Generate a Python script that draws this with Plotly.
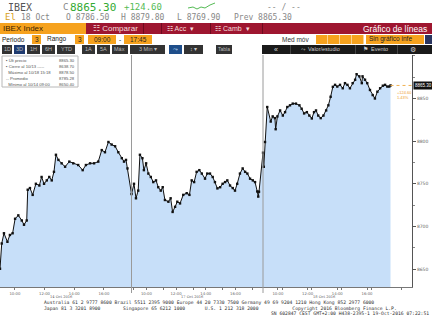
import plotly.graph_objects as go

# ---------------- data ----------------
day_labels = ["14 Oct 2016", "17 Oct 2016", "18 Oct 2016"]

day1_times = ["09:00","09:07","09:16","09:30","09:40","09:51","10:01","10:14","10:28","10:37","10:48","10:52",
              "11:01","11:12","11:25","11:39","11:48","11:58","12:09","12:19","12:29","12:38","12:46","12:56",
              "13:09","13:23","13:40","13:56","14:16","14:34","14:47","15:04","15:20","15:37","15:51","16:04",
              "16:18","16:31","16:45","16:58","17:12","17:21","17:29","17:35"]
day1_vals = [8650.4,8680,8692,8682,8690,8692,8709,8713,8707,8702,8707,8743,
             8745,8737,8750,8748,8758,8750,8754,8758,8754,8764,8784,8778,
             8774,8770,8776,8774,8772,8766,8772,8774,8774,8776,8789.5,8787,
             8799,8796,8794,8787,8780,8776,8778,8768]

day2_times = ["09:00","09:10","09:18","09:27","09:34","09:44","09:50","09:59","10:08","10:18","10:28","10:39",
              "10:48","10:58","11:06","11:15","11:29","11:38","11:46","11:56","12:05","12:16","12:29","12:43",
              "12:54","13:03","13:13","13:23","13:34","13:44","13:57","14:06","14:17","14:28","14:37","14:47",
              "14:58","15:08","15:18","15:27","15:38","15:49","15:58","16:07","16:18","16:29","16:39","16:48",
              "16:59","17:10","17:19","17:28","17:32","17:35"]
day2_vals = [8738,8750,8733,8742,8784,8780,8766,8774,8762,8758,8752,8754,
             8746,8742,8746,8731,8729,8733,8717,8723,8729,8727,8737,8739,
             8737,8754,8752,8764,8766,8762,8756,8762,8762,8758,8752,8744.6,
             8746,8750,8752,8754,8748,8745,8742,8750,8762,8768,8764,8762,
             8756,8754,8752,8741,8735,8740.7]

day3_times = ["09:00","09:03","09:08","09:17","09:31","09:39","09:48","09:51","09:58","10:09","10:20","10:29",
              "10:38","10:49","11:00","11:13","11:27","11:36","11:46","11:57","12:07","12:17","12:26","12:34",
              "12:43","12:53","13:04","13:15","13:24","13:33","13:42","13:51","14:00","14:11","14:22","14:31",
              "14:41","14:51","15:02","15:12","15:18","15:29","15:39","15:42","15:52","16:01","16:12","16:23",
              "16:32","16:42","16:53","17:04","17:13","17:22","17:30","17:35"]
day3_vals = [8786.5,8769.9,8799,8840,8823,8829,8827,8814,8829,8836,8830,8834,
             8840,8842,8844,8844,8842,8838,8832.5,8834,8830,8826.6,8834,8836,
             8830,8827,8830,8836,8842,8852,8863.7,8866,8864,8866,8862,8868,
             8866,8862,8868,8872,8878.5,8876,8868,8876,8872,8868,8860,8854,
             8850,8858,8862,8865,8866,8864,8864,8865.3]

y_ticks = [8650, 8700, 8750, 8800, 8850]
x_tick_hours = [10, 12, 14, 16]
x_tick_text = ["10:00", "12:00", "14:00", "16:00"]
last_price = 8865.30
change_text = ["+124.60", "1.43%"]

legend_rows = [("\u25aa Últ precio", "8865.30"),
               ("\u25aa Cierre al 10/13 -----", "8638.70"),
               ("  Máximo al 10/18 15:18", "8878.50"),
               ("-- Promedio", "8785.28"),
               ("  Mínimo al 10/14 09:00", "8650.40")]

# ---------------- geometry ----------------
W, H = 432, 324
L, R, T, B = 0, 412, 55, 287
DAY = 8.855          # session length in hours
XMAX = 27.74

def px(x):
    return (x - L) / (R - L)

def py(y):
    return (B - y) / (B - T)

def hx(t):
    h, m = t.split(":")
    return int(h) + int(m) / 60.0 - 9.0

xs, ys = [], []
for d, (tt, vv) in enumerate([(day1_times, day1_vals), (day2_times, day2_vals), (day3_times, day3_vals)]):
    for t, v in zip(tt, vv):
        xs.append(d * DAY + hx(t))
        ys.append(v)

fig = go.Figure()
fig.add_trace(go.Scatter(x=xs, y=ys, mode="lines+markers", fill="tozeroy",
                         fillcolor="#c7dff9", line=dict(color="#111111", width=1),
                         marker=dict(color="#111111", size=2.4, symbol="square"),
                         hoverinfo="skip", showlegend=False))

tickvals, ticktext = [], []
for d in range(3):
    for h, t in zip(x_tick_hours, x_tick_text):
        tickvals.append(d * DAY + h - 9)
        ticktext.append(t)

mono = "DejaVu Sans Mono"
shapes = []
ann = []

def box(x0, y0, x1, y1, color, line=None):
    shapes.append(dict(type="rect", xref="paper", yref="paper", x0=px(x0), x1=px(x1),
                       y0=py(y1), y1=py(y0), fillcolor=color,
                       line=dict(width=0 if line is None else 1, color=line or color), layer="above"))

def text(x, y, s, color="#333", size=7, anchor="left", family=mono):
    ann.append(dict(xref="paper", yref="paper", x=px(x), y=py(y), text=s, showarrow=False,
                    xanchor=anchor, yanchor="middle", font=dict(family=family, size=size, color=color),
                    borderpad=0))

# ---- row 1 / row 2
text(7, 7, "IBEX", "#555", 10)
text(62, 7, "C", "#888", 9)
text(69, 7, "8865.30", "#33aa33", 11)
text(123, 7, "+124.60", "#55bb55", 9)
shapes.append(dict(type="path", xref="paper", yref="paper", layer="above",
                   path="M {} {} L {} {} L {} {} L {} {} L {} {} L {} {} L {} {}".format(
                       px(188), py(8), px(193), py(7), px(197), py(9), px(201), py(7), px(205), py(8),
                       px(210), py(5), px(215), py(3)),
                   line=dict(color="#55bb55", width=1)))
text(266, 7, "-- / --", "#888", 8)
text(4, 17, "El", "#d8a020", 9)
text(20, 17, "18 Oct", "#888", 8)
text(65, 17, "O 8786.50", "#888", 8)
text(120, 17, "H 8879.80", "#888", 8)
text(176, 17, "L 8769.90", "#888", 8)
text(233, 17, "Prev 8865.30", "#888", 8)

# ---- row 3
box(0, 23, 86, 34, "#f6a21e")
text(2, 28.5, "IBEX Index", "#3a2000", 8, family="Arial")
box(86, 23, 432, 34, "#9e1630")
for sx in [143, 161, 210, 262]:
    box(sx, 23, sx + 1, 34, "#6e0a1e")
text(92, 28.5, "\u2637 Comparar", "#f4dede", 8, family="Arial")
text(166, 28.5, "\u2637 Acc  \u25be", "#f4dede", 7, family="Arial")
text(214, 28.5, "\u2637 Camb  \u25be", "#f4dede", 7, family="Arial")
text(428, 28.5, "Gráfico de líneas", "#ffffff", 8.5, anchor="right", family="Arial")

# ---- row 4
text(1, 39.5, "Periodo", "#222", 6.5, family="Arial")
box(32, 35, 41, 44, "#f6a21e"); text(36.5, 39.5, "3", "#222", 6.5, "center", "Arial")
text(46, 39.5, "Rango", "#222", 6.5, family="Arial")
box(75, 35, 84, 44, "#f6a21e"); text(79.5, 39.5, "3", "#222", 6.5, "center", "Arial")
box(88, 35, 116, 44, "#f6a21e"); text(102, 39.5, "09:00", "#222", 6.5, "center", "Arial")
text(120, 39.5, "-", "#222", 6.5, "center", "Arial")
box(124, 35, 152, 44, "#f6a21e"); text(138, 39.5, "17:45", "#222", 6.5, "center", "Arial")
text(281, 39.5, "Med móv", "#333", 6.5, family="Arial")
for bx in [316, 328, 340, 352]:
    box(bx, 35, bx + 11.5, 44, "#f6a21e")
box(366, 35, 424, 44, "#f6a21e"); text(368, 39.5, "Sin gráfico infe", "#222", 6.5, family="Arial")
box(425, 35, 432, 44, "#2a3560")

# ---- row 5
btns = [(2, 12, "1D"), (14, 25, "3D"), (27, 40, "1H"), (42, 55, "6H"), (57, 75, "YTD"),
        (82, 95, "1A"), (97, 110, "5A"), (112, 128, "Máx"), (130, 165, "3 Min \u25be")]
for x0, x1, s in btns:
    box(x0, 45, x1, 54, "#1f3b70" if s == "3D" else "#333333")
    text((x0 + x1) / 2, 49.5, s, "#bbbbbb", 5.5, "center", "Arial")
box(169, 45, 182, 54, "#1f4e8a"); text(175.5, 49.5, "\u2933", "#cfe0ff", 6, "center", "Arial")
box(184, 45, 203, 54, "#333333"); text(193.5, 49.5, "\u2195 \u25be", "#cccccc", 5.5, "center", "Arial")
box(216, 45, 232, 54, "#333333"); text(224, 49.5, "Tabla", "#bbbbbb", 5, "center", "Arial")
box(262, 45, 432, 54, "#1a1a1a")
for sx in [290, 355, 397]:
    box(sx, 45, sx + 1, 54, "#444444")
text(276, 49.5, "\u00ab", "#dddddd", 7, "center", "Arial")
text(300, 49.5, "\u2933  Valor/estudio", "#cccccc", 5.5, family="Arial")
text(362, 49.5, "\u2691  Evento", "#cccccc", 5.5, family="Arial")
text(413, 49.5, "\u2699", "#cccccc", 6.5, "center", "Arial")

# ---- chart extras
for sx in [131.5, 263]:
    shapes.append(dict(type="line", xref="paper", yref="paper", x0=px(sx), x1=px(sx),
                       y0=py(293), y1=py(55), line=dict(color="#9a9a9a", width=1), layer="above"))
# legend box
box(2, 56, 78, 87, "rgba(255,255,255,0.95)", line="#b8b8b8")
for i, (lab, val) in enumerate(legend_rows):
    yy = 60 + i * 6
    text(5, yy, lab, "#555", 4.2, family="Arial")
    text(76, yy, val, "#555", 4.2, "right", "Arial")
# date labels
for d, lab in enumerate(day_labels):
    ann.append(dict(xref="x", yref="paper", x=d * DAY + DAY / 2 - 0.3, y=py(297.0), text=lab, showarrow=False,
                    xanchor="center", yanchor="middle", borderpad=0,
                    font=dict(family="DejaVu Serif", size=3.6, color="#555")))
# last price box
ann.append(dict(xref="paper", yref="y", x=px(413), y=last_price, text="8865.30", showarrow=False,
                xanchor="left", yanchor="middle", bgcolor="#111111",
                font=dict(family="Arial", size=4.5, color="#ffffff"), borderpad=1))
shapes.append(dict(type="line", xref="x", yref="y", x0=xs[-1], x1=XMAX, y0=last_price, y1=last_price,
                   line=dict(color="#f0b050", width=1, dash="dot"), layer="above"))
ann.append(dict(xref="paper", yref="y", x=px(395), y=last_price - 3.5,
                text=change_text[0] + "<br>" + change_text[1], showarrow=False, align="left",
                xanchor="left", yanchor="top", font=dict(family="Arial", size=4, color="#f0a030")))
# footer
text(43, 302.7, "Australia 61 2 9777 8600 Brazil 5511 2395 9000 Europe 44 20 7330 7500 Germany 49 69 9204 1210 Hong Kong 852 2977 6000",
     "#333", 4.7)
text(43, 308.3, "Japan 81 3 3201 8900        Singapore 65 6212 1000       U.S. 1 212 318 2000            Copyright 2016 Bloomberg Finance L.P.",
     "#333", 4.7)
text(430, 313.9, "SN 602847 CEST GMT+2:00 H438-2395-1 19-Oct-2016 07:22:51", "#333", 4.7, "right")

fig.update_layout(
    width=W, height=H, margin=dict(l=L, r=W - R, t=T, b=H - B),
    paper_bgcolor="white", plot_bgcolor="white",
    shapes=shapes, annotations=ann,
    xaxis=dict(range=[0, XMAX], tickmode="array", tickvals=tickvals, ticktext=ticktext,
               showgrid=False, zeroline=False, showline=True, linecolor="#777", linewidth=1,
               ticks="outside", ticklen=2, tickcolor="#777",
               tickfont=dict(family="DejaVu Sans", size=3.8, color="#666"),
               minor=dict(ticks="outside", ticklen=2, tickcolor="#777", dtick=2, tick0=1,
                          showgrid=False)),
    yaxis=dict(range=[8629, 8901], side="right", tickmode="array", tickvals=y_ticks,
               showgrid=False, zeroline=False, showline=True, linecolor="#555", linewidth=1,
               ticks="outside", ticklen=3, tickcolor="#555",
               tickfont=dict(family="DejaVu Sans", size=4.5, color="#666"),
               minor=dict(ticks="outside", ticklen=2, tickcolor="#888", dtick=25, tick0=8625)),
)

fig.write_html("out.html")
